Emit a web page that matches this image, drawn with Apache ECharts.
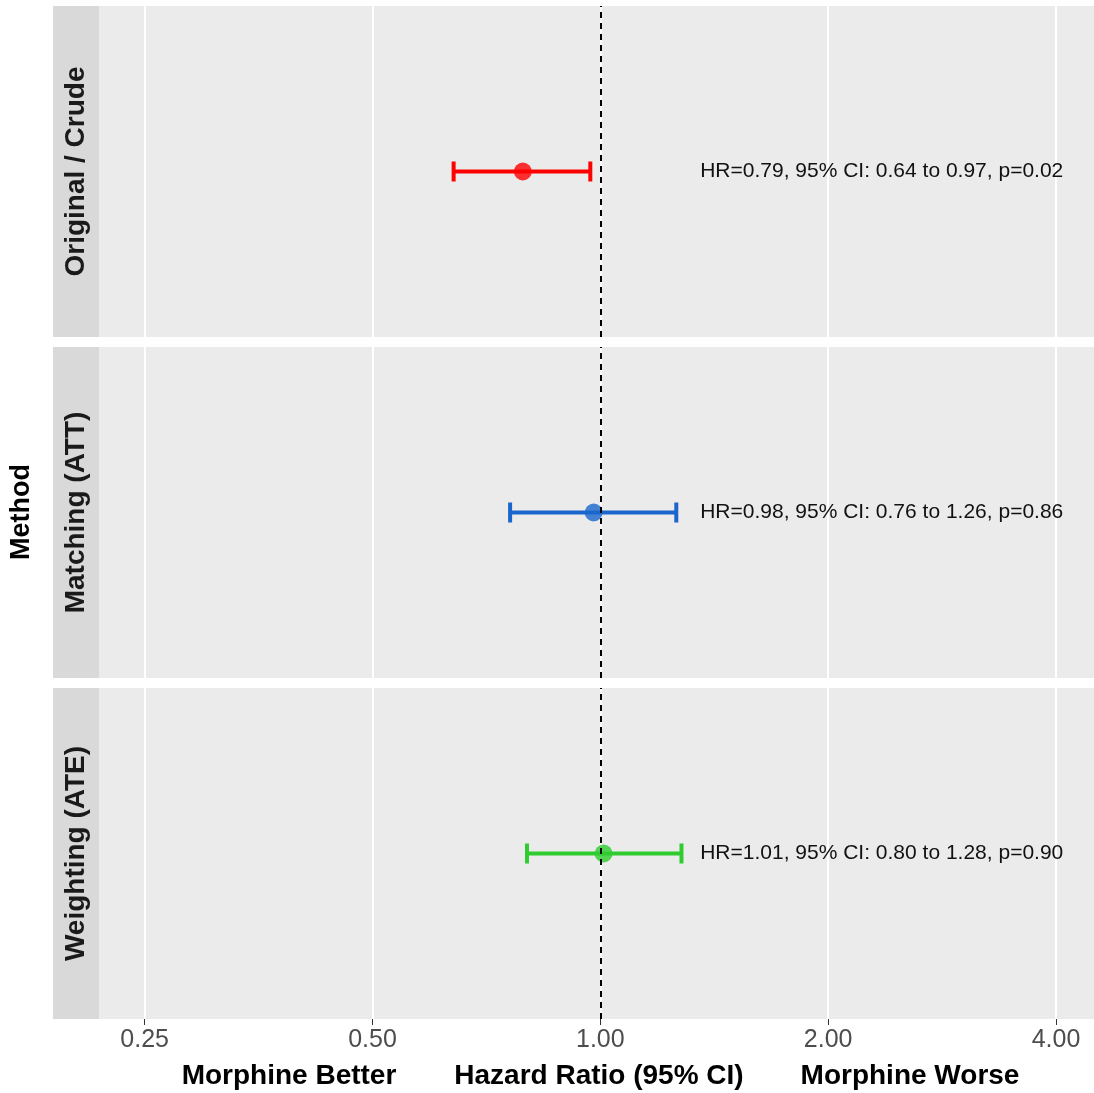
<!DOCTYPE html>
<html><head><meta charset="utf-8">
<script src="https://cdn.jsdelivr.net/npm/echarts@6/dist/echarts.min.js"></script>
<style>html,body{margin:0;padding:0;background:#fff}#c{width:1094px;height:1093px}</style>
</head><body><div id="c"></div>
<script>
var methods = ['Original / Crude', 'Matching (ATT)', 'Weighting (ATE)'];
var hr = [0.79, 0.98, 1.01];
var lower = [0.64, 0.76, 0.80];
var upper = [0.97, 1.26, 1.28];
var pvals = ['0.02', '0.86', '0.90'];
var colors = ['#ff0000', '#1a66cc', '#2ecc2e'];
var tickValues = [0.25, 0.5, 1, 2, 4];

var l2 = function (v) { return Math.log(v) / Math.LN2; };
var chart = echarts.init(document.getElementById('c'));
var tops = [6, 347, 688], H = 331;
var grids = [], xAxes = [], yAxes = [], series = [], graphics = [];

methods.forEach(function (m, i) {
  grids.push({ left: 99, right: 0, top: tops[i], height: H, show: true, backgroundColor: '#ebebeb', borderWidth: 0 });
  xAxes.push({
    gridIndex: i, type: 'value', min: l2(0.2176), max: l2(4.49),
    axisLine: { show: false },
    axisTick: { show: i === 2, customValues: tickValues.map(l2), length: 6, lineStyle: { color: '#333' } },
    axisLabel: { show: i === 2, customValues: tickValues.map(l2), color: '#4d4d4d', fontSize: 25, margin: 9,
      formatter: function (v) { return Math.pow(2, v).toFixed(2); } },
    splitLine: { show: true, lineStyle: { color: '#ffffff', width: 2 } }
  });
  yAxes.push({ gridIndex: i, type: 'value', min: 0, max: 1, show: false, splitLine: { show: false } });
  var txt = 'HR=' + hr[i].toFixed(2) + ', 95% CI: ' + lower[i].toFixed(2) + ' to ' + upper[i].toFixed(2) + ', p=' + pvals[i];
  series.push({
    type: 'custom', xAxisIndex: i, yAxisIndex: i, z: 3,
    data: [[l2(lower[i]), l2(upper[i]), 0.5]],
    renderItem: function (params, api) {
      var a = api.coord([api.value(0), api.value(2)]);
      var b = api.coord([api.value(1), api.value(2)]);
      var st = { stroke: colors[i], lineWidth: 4 };
      var t = api.coord([l2(1.355), 0.5]);
      return { type: 'group', children: [
        { type: 'line', shape: { x1: a[0], y1: a[1], x2: b[0], y2: b[1] }, style: st },
        { type: 'line', shape: { x1: a[0], y1: a[1] - 10, x2: a[0], y2: a[1] + 10 }, style: st },
        { type: 'line', shape: { x1: b[0], y1: b[1] - 10, x2: b[0], y2: b[1] + 10 }, style: st },
        { type: 'text', x: t[0], y: t[1], style: { text: txt, fill: '#111', font: '21px "Liberation Sans", Arial', verticalAlign: 'middle', align: 'left' } }
      ] };
    }
  });
  series.push({
    type: 'scatter', xAxisIndex: i, yAxisIndex: i, z: 4, symbolSize: 18,
    itemStyle: { color: colors[i] }, data: [[l2(hr[i]), 0.5]],
    markLine: { silent: true, symbol: 'none', label: { show: false },
      lineStyle: { color: '#000', type: [6, 5], width: 2 }, data: [{ xAxis: 0 }] }
  });
  graphics.push({ type: 'rect', shape: { x: 53, y: tops[i], width: 46, height: H }, style: { fill: '#d9d9d9' } });
  graphics.push({ type: 'text', x: 76, y: tops[i] + H / 2, rotation: Math.PI / 2,
    style: { text: m, font: 'bold 28px "Liberation Sans", Arial', fill: '#1a1a1a', align: 'center', verticalAlign: 'middle' } });
});

graphics.push({ type: 'text', x: 22, y: 512, rotation: Math.PI / 2,
  style: { text: 'Method', font: 'bold 27px "Liberation Sans", Arial', fill: '#000', align: 'center', verticalAlign: 'middle' } });
[['Morphine Better', 289], ['Hazard Ratio (95% CI)', 599], ['Morphine Worse', 910]].forEach(function (b) {
  graphics.push({ type: 'text', x: b[1], y: 1076,
    style: { text: b[0], font: 'bold 28px "Liberation Sans", Arial', fill: '#000', align: 'center', verticalAlign: 'middle' } });
});

chart.setOption({
  animation: false,
  grid: grids, xAxis: xAxes, yAxis: yAxes, series: series, graphic: graphics
});
</script></body></html>
